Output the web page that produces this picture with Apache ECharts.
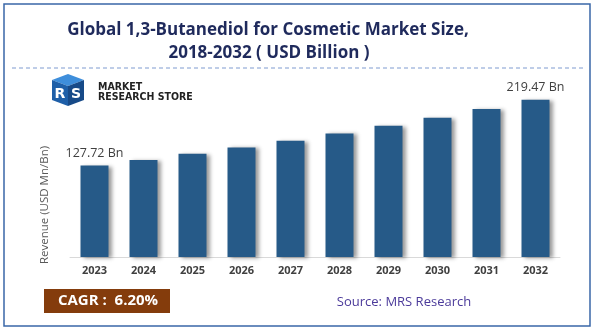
<!DOCTYPE html>
<html>
<head>
<meta charset="utf-8">
<script src="https://cdn.jsdelivr.net/npm/echarts@6/dist/echarts.min.js"></script>
<style>
html,body{margin:0;padding:0;background:#fff;}
#chart{width:596px;height:333px;}
</style>
</head>
<body>
<div id="chart"></div>
<script>
var years = ['2023','2024','2025','2026','2027','2028','2029','2030','2031','2032'];
var revenue = [127.72, 135.64, 144.05, 152.98, 162.47, 172.54, 183.24, 194.60, 206.67, 219.47];
var labeledYears = ['2023','2032'];
var titleLines = ['Global 1,3-Butanediol for Cosmetic Market Size,', '2018-2032 ( USD Billion )'];
var yAxisName = 'Revenue (USD Mn/Bn)';
var cagrText = 'CAGR :  6.20%';
var sourceText = 'Source: MRS Research';

var chart = echarts.init(document.getElementById('chart'), null, {renderer:'canvas'});
var option = {
  backgroundColor: '#fff',
  animation: false,
  grid: {left: 70, right: 36, top: 78, bottom: 76},
  xAxis: {
    type: 'category',
    data: years,
    axisLine: {show: true, lineStyle: {color: '#d9d9d9', width: 1}},
    axisTick: {show: false},
    axisLabel: {color: '#404040', fontWeight: 'bold', fontSize: 11, fontFamily: 'Open Sans', margin: 8}
  },
  yAxis: {
    type: 'value', min: 0, max: 250,
    axisLine: {show: false}, axisTick: {show: false}, axisLabel: {show: false},
    splitLine: {show: false}
  },
  series: [{
    type: 'bar',
    data: revenue.map(function(v, i){
      return {value: v, label: {show: labeledYears.indexOf(years[i]) >= 0}};
    }),
    barWidth: 28,
    itemStyle: {
      color: '#265A88',
      shadowColor: 'rgba(0,0,0,0.4)', shadowBlur: 4, shadowOffsetX: 3, shadowOffsetY: 1
    },
    label: {
      position: 'top', distance: 6, color: '#404040', fontSize: 12.5, fontFamily: 'Open Sans',
      formatter: function(p){ return p.value.toFixed(2) + ' Bn'; }
    }
  }],
  graphic: [
    {type: 'rect', shape: {x: 4, y: 4, width: 586, height: 322}, style: {fill: 'none', stroke: '#3A67A8', lineWidth: 1.5}, z: 10},
    {type: 'line', shape: {x1: 12, y1: 68, x2: 583, y2: 68}, style: {stroke: '#7E9BD0', lineWidth: 1, lineDash: [4, 3]}},
    {type: 'text', x: 268, y: 30, style: {text: titleLines[0], fill: '#1F2A5C', font: 'bold 17px "Open Sans"', align: 'center', verticalAlign: 'middle'}},
    {type: 'text', x: 269, y: 53, style: {text: titleLines[1], fill: '#1F2A5C', font: 'bold 17px "Open Sans"', align: 'center', verticalAlign: 'middle'}},
    {type: 'text', x: 45, y: 205, rotation: Math.PI/2, style: {text: yAxisName, fill: '#595959', font: '11.5px "Open Sans"', align: 'center', verticalAlign: 'middle'}},
    // logo icon
    {type: 'polygon', shape: {points: [[52,80],[68,74],[84,80],[68,86]]}, style: {fill: '#3E8EDB'}},
    {type: 'polygon', shape: {points: [[52,80],[68,86],[68,106],[52,100]]}, style: {fill: '#1E5FA8'}},
    {type: 'polygon', shape: {points: [[68,86],[84,80],[84,100],[68,106]]}, style: {fill: '#174A88'}},
    {type: 'text', x: 60, y: 94, style: {text: 'R', fill: '#fff', font: 'bold 14px "DejaVu Sans"', align: 'center', verticalAlign: 'middle'}},
    {type: 'text', x: 76, y: 94, style: {text: 'S', fill: '#fff', font: 'bold 14px "DejaVu Sans"', align: 'center', verticalAlign: 'middle'}},
    {type: 'text', x: 98, y: 87.5, style: {text: 'MARKET', fill: '#222', font: 'bold 10.5px "DejaVu Sans Condensed"', verticalAlign: 'middle'}},
    {type: 'text', x: 98, y: 97, style: {text: 'RESEARCH STORE', fill: '#222', font: 'bold 10.5px "DejaVu Sans Condensed"', verticalAlign: 'middle'}},
    // CAGR box
    {type: 'rect', shape: {x: 44, y: 289, width: 126, height: 24}, style: {fill: '#843C0C'}},
    {type: 'text', x: 108, y: 301, style: {text: cagrText, fill: '#fff', font: 'bold 15px "Open Sans"', align: 'center', verticalAlign: 'middle'}},
    {type: 'text', x: 404, y: 302, style: {text: sourceText, fill: '#4B3A9A', font: '13px "Open Sans"', align: 'center', verticalAlign: 'middle'}}
  ]
};
chart.setOption(option);
</script>
</body>
</html>
